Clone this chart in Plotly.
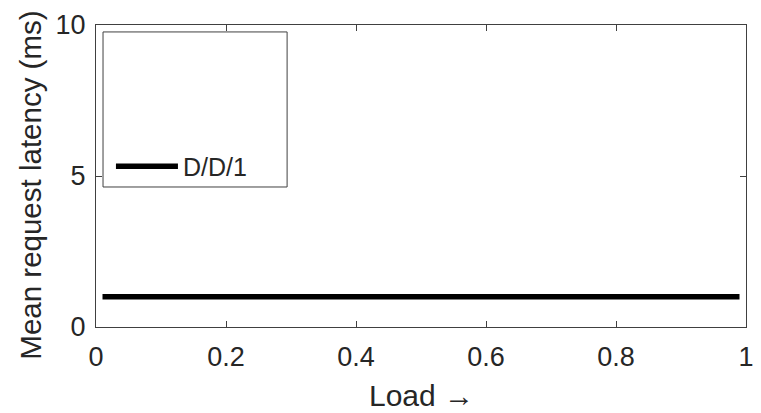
import plotly.graph_objects as go

# Deterministic D/D/1 queue: latency stays at the service time across load
load = [0.01, 0.99]
latency_ms = [1.0, 1.0]
series_name = "D/D/1"

x_ticks = [0, 0.2, 0.4, 0.6, 0.8, 1]
x_tick_text = ["0", "0.2", "0.4", "0.6", "0.8", "1"]
y_ticks = [0, 5, 10]

x_title = "Load \u2192"
y_title = "Mean request latency (ms)"

axis_color = "#404040"
text_color = "#262626"
font_family = "Liberation Sans, Arial, sans-serif"

fig = go.Figure()
fig.add_trace(go.Scatter(
    x=load, y=latency_ms, mode="lines", name=series_name,
    line=dict(color="black", width=5.5),
))

axis_common = dict(
    showline=True, linecolor=axis_color, linewidth=1, mirror="ticks",
    ticks="inside", ticklen=6, tickcolor=axis_color, tickwidth=1,
    showgrid=False, zeroline=False, automargin=False,
    tickfont=dict(family=font_family, size=27, color=text_color),
)

fig.update_layout(
    width=761, height=413,
    margin=dict(l=96, r=15, t=25, b=86),
    plot_bgcolor="white", paper_bgcolor="white",
    font=dict(family=font_family, color=text_color),
    xaxis=dict(range=[0, 1], tickvals=x_ticks, ticktext=x_tick_text,
               ticklabelstandoff=6, **axis_common),
    yaxis=dict(range=[0, 10], tickvals=y_ticks, ticklabelstandoff=4,
               **axis_common),
    showlegend=True,
    legend=dict(
        x=0.023, y=0.455, xanchor="left", yanchor="bottom",
        bgcolor="rgba(0,0,0,0)", borderwidth=0,
        font=dict(family=font_family, size=25, color=text_color),
        itemwidth=62,
    ),
    shapes=[dict(
        type="rect", xref="paper", yref="paper",
        x0=0.0108, x1=0.294, y0=0.4636, y1=0.977,
        line=dict(color=axis_color, width=1), fillcolor="white", layer="below",
    )],
    annotations=[
        dict(text=x_title, xref="paper", yref="paper", x=0.5, y=-0.228,
             xanchor="center", yanchor="middle", showarrow=False,
             font=dict(family=font_family, size=30, color=text_color)),
        dict(text=y_title, xref="paper", yref="paper", x=-0.1, y=0.468,
             xanchor="center", yanchor="middle", textangle=-90, showarrow=False,
             font=dict(family=font_family, size=29.5, color=text_color)),
    ],
)

fig.write_html("out.html")
